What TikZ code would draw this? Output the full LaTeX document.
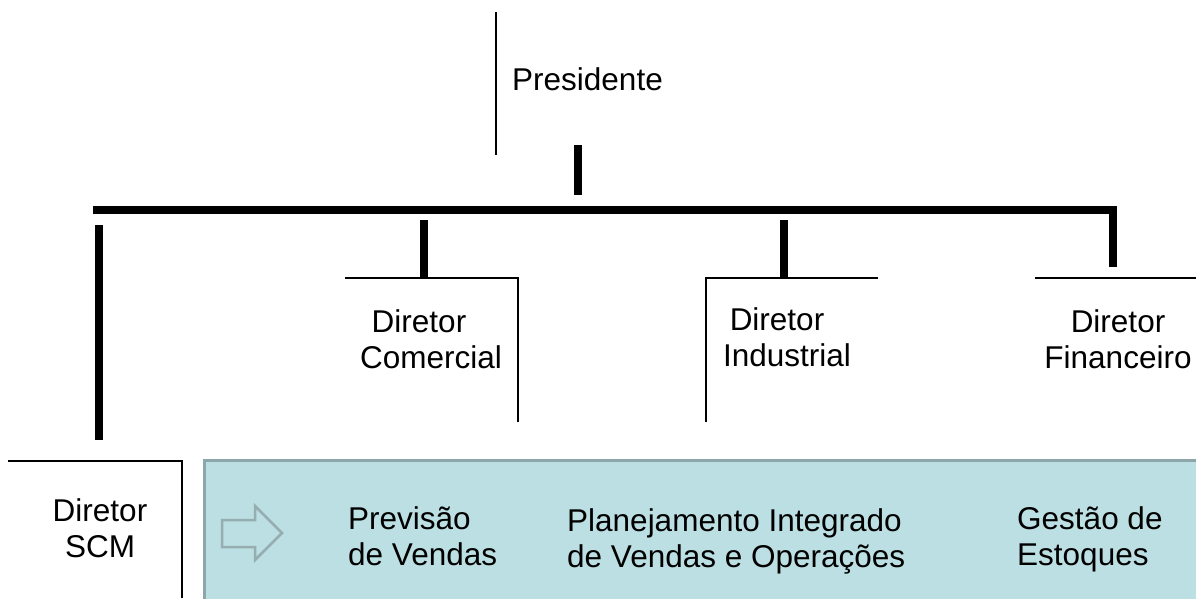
\documentclass[tikz,border=0pt]{standalone}
\usepackage{fontspec}
\setmainfont{Liberation Sans}
\definecolor{tealfill}{RGB}{187,223,226}
\definecolor{tealedge}{RGB}{140,166,169}
\definecolor{arrowedge}{RGB}{150,174,177}
\begin{document}
\begin{tikzpicture}[x=1pt,y=-1pt,
  lbl/.style={font=\fontsize{31.5}{36}\selectfont, inner sep=0pt, align=center},
  lbll/.style={lbl, align=left, anchor=west},
  bar/.style={line width=8pt},
  thinline/.style={line width=1.5pt},
  panel/.style={fill=tealfill, draw=tealedge, line width=3pt},
  hollowarrow/.style={draw=arrowedge, line width=2.5pt, line join=miter}]
\useasboundingbox (0,0) rectangle (1196,598);

% panel behind the processes
\path[panel] (204,460) rectangle (1210,615);
\draw[hollowarrow] (222,520) -- (255,520) -- (255,506) -- (282,533) -- (255,560) -- (255,547) -- (222,547) -- cycle;

% president
\coordinate (pl1) at (496,12);
\coordinate (pl2) at (496,155);
\draw[thinline] (pl1) -- (pl2);
\node[lbl, anchor=west] (pres) at (512,79) {Presidente};

% trunk
\coordinate (ps) at (578,145);
\coordinate (pe) at (578,195);
\draw[bar] (ps) -- (pe);
\coordinate (hl) at (93,210);
\coordinate (hr) at (1117,210);
\draw[bar] (hl) -- (hr);

% branches
\coordinate (scmA) at (99,225);   \coordinate (scmB) at (99,440);
\coordinate (comA) at (424,220);  \coordinate (comB) at (424,278);
\coordinate (indA) at (784,220);  \coordinate (indB) at (784,278);
\coordinate (finA) at (1113,206); \coordinate (finB) at (1113,267);
\draw[bar] (scmA) -- (scmB);
\draw[bar] (comA) -- (comB);
\draw[bar] (indA) -- (indB);
\draw[bar] (finA) -- (finB);

% director boxes (open frames)
\draw[thinline] (345,278) -- (518,278) -- (518,422);
\draw[thinline] (878,278) -- (706,278) -- (706,422);
\draw[thinline] (1035,278) -- (1196,278);
\draw[thinline] (8,461) -- (182,461) -- (182,598);

\node[lbl] (com) at (431,339) {Diretor\hspace*{24pt}\\Comercial};
\node[lbl] (ind) at (787,337) {Diretor\hspace*{20pt}\\Industrial};
\node[lbl] (fin) at (1118,339) {Diretor\\Financeiro};
\node[lbl] (scm) at (100,528) {Diretor\\SCM};

% processes
\node[lbll] (prev) at (348,536) {Previsão\\de Vendas};
\node[lbll] (plan) at (567,541) {Planejamento Integrado\\de Vendas e Operações};
\node[lbll] (gest) at (1017,539) {Gestão de\\Estoques};
\end{tikzpicture}
\end{document}
